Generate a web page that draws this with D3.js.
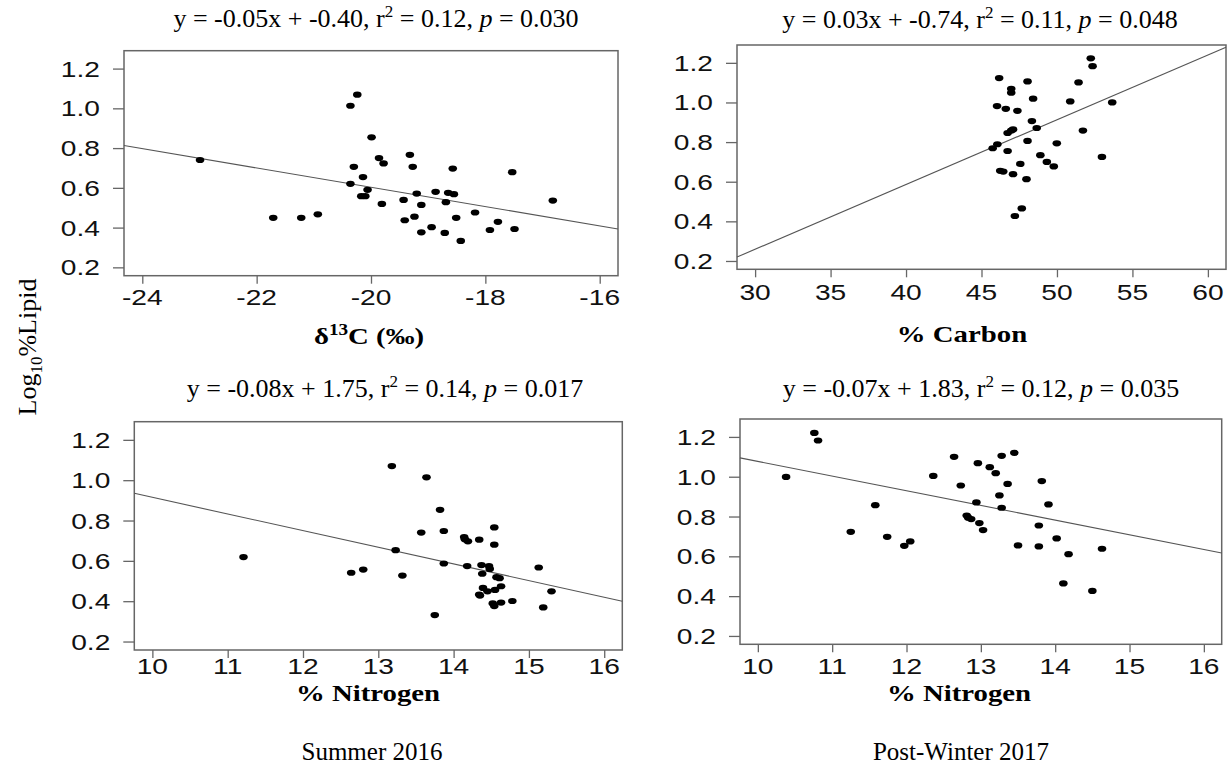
<!DOCTYPE html>
<html>
<head>
<meta charset="utf-8">
<script src="https://cdn.jsdelivr.net/npm/d3@7"></script>
<style>
  body { margin: 0; background: #fff; }
</style>
</head>
<body>
<script>
// Summer 2016: d13C vs log10 % lipid
const d13C = [-22.99, -21.71, -21.22, -20.93, -20.36, -20.24, -19.99, -19.86, -19.78, -20.30,
  -20.14, -20.36, -20.06, -20.17, -20.10, -19.81, -19.32, -19.27, -19.43, -19.20,
  -19.12, -19.41, -19.24, -19.12, -18.94, -18.87, -18.71, -18.69, -18.65, -18.55,
  -18.57, -18.51, -18.43, -18.18, -17.92, -17.78, -17.53, -17.49, -16.82];
const lipidD13C = [0.740, 0.449, 0.449, 0.467, 1.013, 1.069, 0.854, 0.750, 0.723, 0.706,
  0.654, 0.620, 0.590, 0.558, 0.558, 0.519, 0.766, 0.706, 0.539, 0.571,
  0.514, 0.437, 0.455, 0.376, 0.402, 0.580, 0.373, 0.528, 0.575, 0.568,
  0.697, 0.449, 0.333, 0.476, 0.388, 0.429, 0.679, 0.393, 0.536];

// Post-winter 2017: % carbon
const carbon = [45.74, 46.05, 46.03, 46.17, 46.24, 46.44, 46.61, 46.73, 46.73, 46.97,
  47.09, 46.97, 46.97, 47.09, 47.21, 47.38, 47.57, 47.67, 47.98, 48.05,
  48.05, 48.34, 48.42, 48.66, 48.90, 49.33, 49.79, 49.99, 50.88, 51.43,
  51.72, 52.24, 52.36, 52.98, 53.66];
const lipidCarbon = [0.769, 0.789, 0.982, 1.123, 0.655, 0.651, 0.968, 0.755, 0.846, 0.858,
  0.864, 1.069, 1.049, 0.638, 0.427, 0.958, 0.690, 0.465, 0.613, 0.806,
  1.106, 0.906, 1.019, 0.871, 0.734, 0.700, 0.677, 0.794, 1.005, 1.101,
  0.858, 1.223, 1.183, 0.725, 1.000];

// Summer 2016: % nitrogen
const nitrogenSummer = [11.21, 12.64, 12.80, 13.18, 13.23, 13.32, 13.57, 13.64, 13.75, 13.82,
  13.87, 13.87, 14.14, 14.15, 14.19, 14.18, 14.34, 14.34, 14.35, 14.37,
  14.38, 14.39, 14.45, 14.47, 14.48, 14.52, 14.54, 14.54, 14.54, 14.55,
  14.57, 14.61, 14.63, 14.63, 14.78, 15.13, 15.19, 15.30];
const lipidNitrogenSummer = [0.619, 0.541, 0.557, 1.070, 0.653, 0.527, 0.740, 1.014, 0.331, 0.853,
  0.748, 0.587, 0.718, 0.707, 0.697, 0.574, 0.705, 0.433, 0.428, 0.579,
  0.536, 0.466, 0.449, 0.574, 0.560, 0.389, 0.376, 0.766, 0.680, 0.456,
  0.519, 0.514, 0.474, 0.393, 0.401, 0.567, 0.369, 0.449];

// Post-winter 2017: % nitrogen
const nitrogenWinter = [10.38, 10.76, 10.81, 11.25, 11.58, 11.74, 11.97, 12.05, 12.36, 12.64,
  12.73, 12.81, 12.83, 12.87, 12.94, 12.96, 12.98, 13.03, 13.12, 13.20,
  13.25, 13.28, 13.28, 13.36, 13.45, 13.50, 13.78, 13.78, 13.82, 13.91,
  14.02, 14.11, 14.18, 14.50, 14.63];
const lipidNitrogenWinter = [0.999, 1.220, 1.182, 0.723, 0.857, 0.698, 0.653, 0.675, 1.004, 1.100,
  0.956, 0.805, 0.794, 0.787, 0.871, 1.068, 0.767, 0.732, 1.048, 1.018,
  0.906, 1.105, 0.844, 0.964, 1.120, 0.655, 0.755, 0.650, 0.978, 0.861,
  0.690, 0.464, 0.611, 0.426, 0.638];

// fitted lines [slope, intercept]
const fits = [[-0.0486, -0.369], [0.0327, -0.722], [-0.0826, 1.741], [-0.0737, 1.814]];

const equations = ["y = -0.05x + -0.40", "y = 0.03x + -0.74", "y = -0.08x + 1.75", "y = -0.07x + 1.83"];
const rSquared = ["0.12", "0.11", "0.14", "0.12"];
const pValues = ["0.030", "0.048", "0.017", "0.035"];

const xTicksD13C = [-24, -22, -20, -18, -16];
const xTicksCarbon = [30, 35, 40, 45, 50, 55, 60];
const xTicksNitrogen = [10, 11, 12, 13, 14, 15, 16];
const yTicks = [0.2, 0.4, 0.6, 0.8, 1.0, 1.2];
const seasons = ["Summer 2016", "Post-Winter 2017"];

const svg = d3.select("body").append("svg").attr("width", 1230).attr("height", 778);

const panels = [
  { xs: d13C, ys: lipidD13C, ticks: xTicksD13C, xDomain: [-24.32, -15.68],
    box: { left: 124, top: 50.7, right: 618, bottom: 275.7 },
    titleX: 376, titleY: 27, labelX: 369, labelY: 344, tickY: 305, label: "d13C" },
  { xs: carbon, ys: lipidCarbon, ticks: xTicksCarbon, xDomain: [28.8, 61.2],
    box: { left: 737, top: 45, right: 1226, bottom: 269.3 },
    titleX: 980, titleY: 28, labelX: 962, labelY: 342, tickY: 300, label: "% Carbon" },
  { xs: nitrogenSummer, ys: lipidNitrogenSummer, ticks: xTicksNitrogen, xDomain: [9.76, 16.24],
    box: { left: 134.3, top: 421.7, right: 622.3, bottom: 650 },
    titleX: 385, titleY: 397, labelX: 368, labelY: 701, tickY: 674, label: "% Nitrogen" },
  { xs: nitrogenWinter, ys: lipidNitrogenWinter, ticks: xTicksNitrogen, xDomain: [9.76, 16.24],
    box: { left: 740, top: 419, right: 1221.7, bottom: 644.3 },
    titleX: 981, titleY: 397, labelX: 959, labelY: 701, tickY: 674, label: "% Nitrogen" },
];

const stretch = 1.28;
const serif = "'Liberation Serif', 'Times New Roman', serif";
const sans = "'Liberation Sans', Arial, sans-serif";

panels.forEach((p, i) => {
  const xScale = d3.scaleLinear().domain(p.xDomain).range([p.box.left, p.box.right]);
  const yScale = d3.scaleLinear().domain([0.158, 1.29]).range([p.box.bottom, p.box.top]);

  // title
  const t = svg.append("text")
    .attr("x", p.titleX).attr("y", p.titleY)
    .attr("text-anchor", "middle")
    .style("font-family", serif).style("font-size", "26px").attr("fill", "#000");
  t.append("tspan").text(equations[i] + ", r");
  t.append("tspan").text("2").attr("dy", -10).style("font-size", "17px");
  t.append("tspan").text(" = " + rSquared[i] + ", ").attr("dy", 10);
  t.append("tspan").text("p").style("font-style", "italic");
  t.append("tspan").text(" = " + pValues[i]);

  // x axis ticks
  const xAxis = svg.append("g")
    .attr("transform", `translate(0,${p.box.bottom})`)
    .call(d3.axisBottom(xScale).tickValues(p.ticks).tickSize(8).tickFormat(() => ""));
  xAxis.select(".domain").remove();
  xAxis.selectAll("line").attr("stroke", "#666").attr("stroke-width", 1.3);

  svg.append("g").selectAll("text")
    .data(p.ticks)
    .join("text")
    .attr("transform", d => `translate(${xScale(d)},${p.tickY}) scale(${stretch},1)`)
    .attr("text-anchor", "middle")
    .style("font-family", sans).style("font-size", "22px").attr("fill", "#111")
    .text(d => String(d));

  // y axis ticks
  const yAxis = svg.append("g")
    .attr("transform", `translate(${p.box.left},0)`)
    .call(d3.axisLeft(yScale).tickValues(yTicks).tickSize(11).tickFormat(() => ""));
  yAxis.select(".domain").remove();
  yAxis.selectAll("line").attr("stroke", "#666").attr("stroke-width", 1.3);

  svg.append("g").selectAll("text")
    .data(yTicks)
    .join("text")
    .attr("transform", d => `translate(${p.box.left - 24},${yScale(d) + 8}) scale(${stretch},1)`)
    .attr("text-anchor", "end")
    .style("font-family", sans).style("font-size", "22px").attr("fill", "#111")
    .text(d3.format(".1f"));

  // box
  svg.append("rect")
    .attr("x", p.box.left).attr("y", p.box.top)
    .attr("width", p.box.right - p.box.left).attr("height", p.box.bottom - p.box.top)
    .attr("fill", "none").attr("stroke", "#666").attr("stroke-width", 1.5);

  // regression line
  const [slope, intercept] = fits[i];
  svg.append("line")
    .attr("x1", xScale(p.xDomain[0])).attr("y1", yScale(slope * p.xDomain[0] + intercept))
    .attr("x2", xScale(p.xDomain[1])).attr("y2", yScale(slope * p.xDomain[1] + intercept))
    .attr("stroke", "#555").attr("stroke-width", 1.1);

  // points
  svg.append("g").selectAll("ellipse")
    .data(p.xs.map((x, j) => [x, p.ys[j]]))
    .join("ellipse")
    .attr("cx", d => xScale(d[0])).attr("cy", d => yScale(d[1]))
    .attr("rx", 4.3).attr("ry", 3.1)
    .attr("fill", "#000");

  // x label
  const lab = svg.append("text")
    .attr("transform", `translate(${p.labelX},${p.labelY}) scale(1.2,1)`)
    .attr("text-anchor", "middle")
    .style("font-family", serif).style("font-size", "24px").style("font-weight", "bold");
  if (p.label === "d13C") {
    lab.append("tspan").text("δ");
    lab.append("tspan").text("13").attr("dy", -9).style("font-size", "16px");
    lab.append("tspan").text("C (‰)").attr("dy", 9);
  } else {
    lab.text(p.label);
  }
});

// y title
const yt = svg.append("text")
  .attr("transform", "translate(36,347) rotate(-90)")
  .attr("text-anchor", "middle")
  .style("font-family", serif).style("font-size", "26px");
yt.append("tspan").text("Log");
yt.append("tspan").text("10").attr("dy", 6).style("font-size", "17px");
yt.append("tspan").text("%Lipid").attr("dy", -6);

// season labels
svg.selectAll(".season")
  .data(seasons)
  .join("text")
  .attr("x", (d, i) => i === 0 ? 372 : 961)
  .attr("y", 760)
  .attr("text-anchor", "middle")
  .style("font-family", serif).style("font-size", "25px")
  .text(d => d);
</script>
</body>
</html>
